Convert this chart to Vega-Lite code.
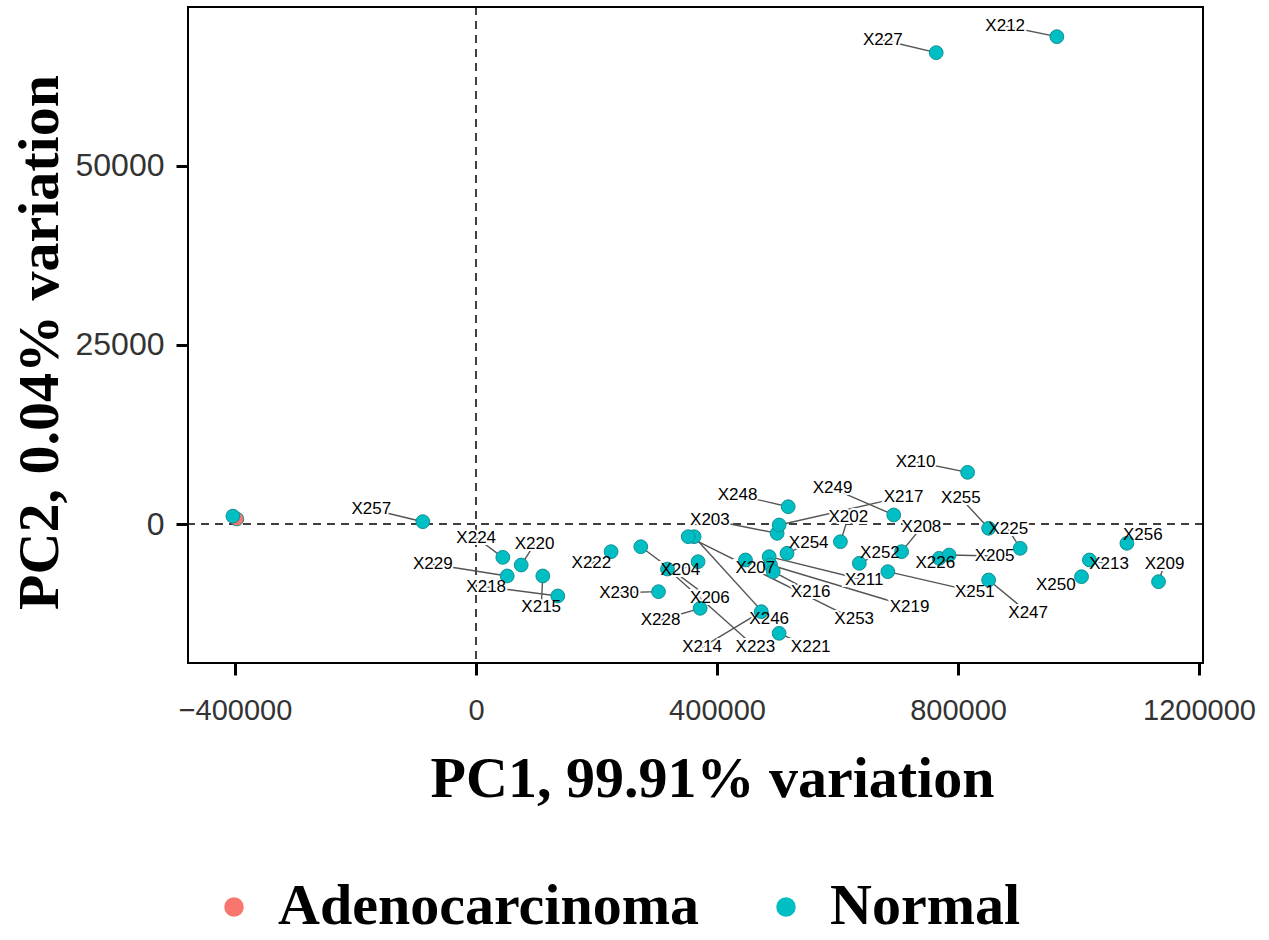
{
  "$schema": "https://vega.github.io/schema/vega-lite/v6.json",
  "autosize": {"type": "none"},
  "width": 1015,
  "height": 656,
  "padding": {"left": 188, "top": 7, "right": 66, "bottom": 277},
  "background": "white",
  "config": {
    "view": {"stroke": "black", "strokeWidth": 2},
    "axisX": {
      "domain": false, "grid": false, "tickColor": "black", "tickWidth": 3, "tickSize": 12,
      "labelFont": "Liberation Sans", "labelFontSize": 29, "labelColor": "#333333", "labelPadding": 21,
      "titleFont": "Liberation Serif", "titleFontWeight": "bold", "titleFontSize": 58, "titleColor": "black",
      "titleX": 524, "titleY": 133, "titleBaseline": "alphabetic", "titleAlign": "center"
    },
    "axisY": {
      "domain": false, "grid": false, "tickColor": "black", "tickWidth": 3, "tickSize": 12,
      "labelFont": "Liberation Sans", "labelFontSize": 32, "labelColor": "#333333", "labelPadding": 12,
      "titleFont": "Liberation Serif", "titleFontWeight": "bold", "titleFontSize": 58, "titleColor": "black",
      "titleX": -131, "titleY": 335, "titleBaseline": "alphabetic", "titleAlign": "center", "titleAngle": -90
    }
  },
  "data": {
    "values": [
      {"id": "A1", "label": "", "group": "Adenocarcinoma", "x": -397000, "y": 700, "lx": null, "ly": null},
      {"id": "N0", "label": "", "group": "Normal", "x": -403500, "y": 1100, "lx": null, "ly": null},
      {"id": "X257", "label": "X257", "group": "Normal", "x": -88300, "y": 320, "lx": -173900, "ly": 2050},
      {"id": "X224", "label": "X224", "group": "Normal", "x": 44500, "y": -4650, "lx": 300, "ly": -1910},
      {"id": "X220", "label": "X220", "group": "Normal", "x": 75000, "y": -5720, "lx": 97100, "ly": -2790},
      {"id": "X229", "label": "X229", "group": "Normal", "x": 51800, "y": -7250, "lx": -71700, "ly": -5620},
      {"id": "X215", "label": "X215", "group": "Normal", "x": 110900, "y": -7250, "lx": 108200, "ly": -11540},
      {"id": "X218", "label": "X218", "group": "Normal", "x": 135800, "y": -10040, "lx": 16900, "ly": -8750},
      {"id": "X222", "label": "X222", "group": "Normal", "x": 224200, "y": -3860, "lx": 191500, "ly": -5480},
      {"id": "X206", "label": "X206", "group": "Normal", "x": 273500, "y": -3170, "lx": 388200, "ly": -10370},
      {"id": "X230", "label": "X230", "group": "Normal", "x": 302900, "y": -9440, "lx": 237300, "ly": -9580},
      {"id": "X204", "label": "X204", "group": "Normal", "x": 368600, "y": -5260, "lx": 339100, "ly": -6420},
      {"id": "X223", "label": "X223", "group": "Normal", "x": 317800, "y": -6280, "lx": 463700, "ly": -17200},
      {"id": "X228", "label": "X228", "group": "Normal", "x": 372000, "y": -11760, "lx": 306200, "ly": -13390},
      {"id": "X246", "label": "X246", "group": "Normal", "x": 362000, "y": -1770, "lx": 486600, "ly": -13290},
      {"id": "X253", "label": "X253", "group": "Normal", "x": 352200, "y": -1770, "lx": 627700, "ly": -13290},
      {"id": "X214", "label": "X214", "group": "Normal", "x": 473500, "y": -12230, "lx": 375100, "ly": -17200},
      {"id": "X221", "label": "X221", "group": "Normal", "x": 503100, "y": -15250, "lx": 555500, "ly": -17200},
      {"id": "X207", "label": "X207", "group": "Normal", "x": 447300, "y": -5020, "lx": 463700, "ly": -6180},
      {"id": "X211", "label": "X211", "group": "Normal", "x": 486600, "y": -4560, "lx": 644200, "ly": -7810},
      {"id": "X219", "label": "X219", "group": "Normal", "x": 488800, "y": -5720, "lx": 719500, "ly": -11540},
      {"id": "X216", "label": "X216", "group": "Normal", "x": 493300, "y": -6650, "lx": 555500, "ly": -9440},
      {"id": "X254", "label": "X254", "group": "Normal", "x": 516200, "y": -4090, "lx": 552200, "ly": -2690},
      {"id": "X203", "label": "X203", "group": "Normal", "x": 499800, "y": -1300, "lx": 388200, "ly": 560},
      {"id": "X217", "label": "X217", "group": "Normal", "x": 503100, "y": -140, "lx": 709700, "ly": 3810},
      {"id": "X248", "label": "X248", "group": "Normal", "x": 518200, "y": 2410, "lx": 434200, "ly": 4050},
      {"id": "X202", "label": "X202", "group": "Normal", "x": 604800, "y": -2470, "lx": 617900, "ly": 940},
      {"id": "X252", "label": "X252", "group": "Normal", "x": 636200, "y": -5480, "lx": 670400, "ly": -4090},
      {"id": "X208", "label": "X208", "group": "Normal", "x": 706400, "y": -3860, "lx": 739300, "ly": -460},
      {"id": "X251", "label": "X251", "group": "Normal", "x": 683500, "y": -6650, "lx": 827900, "ly": -9440},
      {"id": "X249", "label": "X249", "group": "Normal", "x": 693300, "y": 1260, "lx": 591700, "ly": 4980},
      {"id": "X210", "label": "X210", "group": "Normal", "x": 815900, "y": 7210, "lx": 729500, "ly": 8690},
      {"id": "X255", "label": "X255", "group": "Normal", "x": 850800, "y": -600, "lx": 804800, "ly": 3590},
      {"id": "X225", "label": "X225", "group": "Normal", "x": 903200, "y": -3390, "lx": 883500, "ly": -740},
      {"id": "X226", "label": "X226", "group": "Normal", "x": 768800, "y": -4790, "lx": 762200, "ly": -5480},
      {"id": "X205", "label": "X205", "group": "Normal", "x": 785200, "y": -4330, "lx": 860600, "ly": -4460},
      {"id": "X247", "label": "X247", "group": "Normal", "x": 850800, "y": -7810, "lx": 916400, "ly": -12370},
      {"id": "X256", "label": "X256", "group": "Normal", "x": 1080300, "y": -2690, "lx": 1106600, "ly": -1540},
      {"id": "X213", "label": "X213", "group": "Normal", "x": 1018100, "y": -5020, "lx": 1050800, "ly": -5580},
      {"id": "X250", "label": "X250", "group": "Normal", "x": 1005000, "y": -7350, "lx": 962300, "ly": -8550},
      {"id": "X209", "label": "X209", "group": "Normal", "x": 1132800, "y": -8050, "lx": 1142700, "ly": -5580},
      {"id": "X227", "label": "X227", "group": "Normal", "x": 763800, "y": 65750, "lx": 675200, "ly": 67520},
      {"id": "X212", "label": "X212", "group": "Normal", "x": 964000, "y": 67980, "lx": 878300, "ly": 69470}
    ]
  },
  "layer": [
    {
      "data": {"values": [{"v": 0}]},
      "mark": {"type": "rule", "color": "black", "strokeWidth": 1.5, "strokeDash": [8, 6]},
      "encoding": {
        "x": {"field": "v", "type": "quantitative", "title": "PC1, 99.91% variation",
              "scale": {"domain": [-478000, 1206600], "nice": false, "zero": false},
              "axis": {"values": [-400000, 0, 400000, 800000, 1200000], "format": "d"}}
      }
    },
    {
      "data": {"values": [{"v": 0}]},
      "mark": {"type": "rule", "color": "black", "strokeWidth": 1.5, "strokeDash": [8, 6]},
      "encoding": {
        "y": {"field": "v", "type": "quantitative", "title": "PC2, 0.04% variation",
              "scale": {"domain": [-19390, 72120], "nice": false, "zero": false},
              "axis": {"values": [0, 25000, 50000], "format": "d"}}
      }
    },
    {
      "transform": [{"filter": "datum.label != ''"}],
      "mark": {"type": "rule", "color": "#555555", "strokeWidth": 1.4},
      "encoding": {
        "x": {"field": "x", "type": "quantitative", "title": "PC1, 99.91% variation"},
        "y": {"field": "y", "type": "quantitative", "title": "PC2, 0.04% variation"},
        "x2": {"field": "lx"},
        "y2": {"field": "ly"}
      }
    },
    {
      "transform": [{"filter": "datum.label != ''"}],
      "mark": {"type": "text", "font": "Liberation Sans", "fontSize": 17, "stroke": "white", "strokeWidth": 4, "fill": "white", "align": "center", "baseline": "middle"},
      "encoding": {
        "x": {"field": "lx", "type": "quantitative", "title": "PC1, 99.91% variation"},
        "y": {"field": "ly", "type": "quantitative", "title": "PC2, 0.04% variation"},
        "text": {"field": "label"}
      }
    },
    {
      "mark": {"type": "point", "filled": true, "opacity": 1, "size": 190, "stroke": "#148f91", "strokeWidth": 1},
      "encoding": {
        "x": {"field": "x", "type": "quantitative", "title": "PC1, 99.91% variation"},
        "y": {"field": "y", "type": "quantitative", "title": "PC2, 0.04% variation"},
        "color": {
          "field": "group", "type": "nominal",
          "scale": {"domain": ["Adenocarcinoma", "Normal"], "range": ["#F8766D", "#00BFC4"]},
          "legend": {
            "title": null, "orient": "none", "direction": "horizontal", "legendX": 17, "legendY": 871,
            "padding": 0, "symbolType": "circle", "symbolSize": 380, "symbolStrokeWidth": 0,
            "labelFont": "Liberation Serif", "labelFontWeight": "bold", "labelFontSize": 58, "labelColor": "black",
            "labelOffset": 15, "columnPadding": 57, "labelLimit": 0
          }
        }
      }
    },
    {
      "transform": [{"filter": "datum.label != ''"}],
      "mark": {"type": "text", "font": "Liberation Sans", "fontSize": 17, "fill": "black", "align": "center", "baseline": "middle"},
      "encoding": {
        "x": {"field": "lx", "type": "quantitative", "title": "PC1, 99.91% variation"},
        "y": {"field": "ly", "type": "quantitative", "title": "PC2, 0.04% variation"},
        "text": {"field": "label"}
      }
    }
  ]
}
